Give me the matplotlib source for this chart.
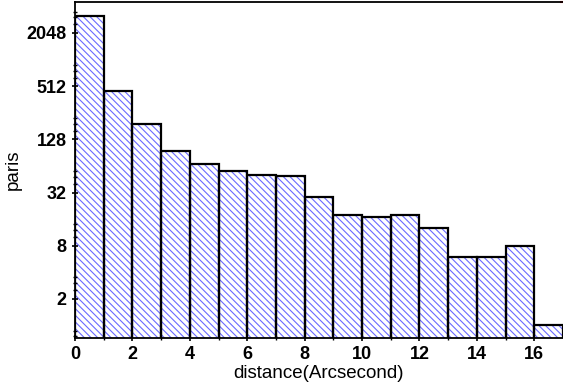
import numpy as np
import matplotlib
matplotlib.use('Agg')
import matplotlib.pyplot as plt
from matplotlib.ticker import FixedLocator, NullFormatter

# Данные гистограммы (левые края интервалов и число пар)
bin_left = np.arange(0, 17)
counts = [3210, 455, 191, 95, 67.6, 55.7, 50, 49, 28.4, 17.9, 16.8, 17.9, 12.8, 6.0, 6.0, 8.0, 1.0]
y_ticks = [2, 8, 32, 128, 512, 2048]
x_ticks = [0, 2, 4, 6, 8, 10, 12, 14, 16]

plt.rcParams['font.family'] = ['Liberation Sans', 'DejaVu Sans']
plt.rcParams['hatch.linewidth'] = 0.8

fig = plt.figure(figsize=(5.63, 3.89), dpi=100)
ax = fig.add_axes([0.1332, 0.131, 0.8668, 0.864])

# Штриховка синим, контур чёрным
ax.bar(bin_left, counts, width=1.0, align='edge', bottom=0.001,
       facecolor='white', edgecolor='#6a6aff', hatch='\\' * 5, linewidth=0)
ax.bar(bin_left, counts, width=1.0, align='edge', bottom=0.001,
       fill=False, edgecolor='black', linewidth=1.6)

ax.set_yscale('log', base=2)
ax.set_ylim(0.72, 4600)
ax.set_xlim(0, 17)

ax.yaxis.set_major_locator(FixedLocator(y_ticks))
ax.set_yticklabels([str(v) for v in y_ticks])
minor = []
for p in range(-1, 13, 2):
    base = 2.0 ** p
    minor += [base * m for m in (1.0, 1.25, 1.5, 1.75)]
minor = [m for m in minor if m not in y_ticks]
ax.yaxis.set_minor_locator(FixedLocator(minor))
ax.yaxis.set_minor_formatter(NullFormatter())

ax.set_xticks(x_ticks)
ax.set_xticks(np.arange(1, 17, 2), minor=True)

ax.tick_params(axis='both', which='major', labelsize=13, width=1.2, length=5, direction='inout')
ax.tick_params(axis='both', which='minor', width=1.0, length=3, direction='inout')
for lab in ax.get_xticklabels() + ax.get_yticklabels():
    lab.set_fontweight('bold')

ax.spines['right'].set_visible(False)
for s in ['left', 'bottom', 'top']:
    ax.spines[s].set_linewidth(1.3)
ax.plot([0.995, 1.0], [1, 1], transform=ax.transAxes, color='red', lw=1.5, clip_on=False)

ax.set_xlabel('distance(Arcsecond)', fontsize=13.5, labelpad=1)
ax.set_ylabel('paris', fontsize=13.5)
ax.yaxis.set_label_coords(-0.108, 0.5)

fig.savefig('out.png', dpi=100)
